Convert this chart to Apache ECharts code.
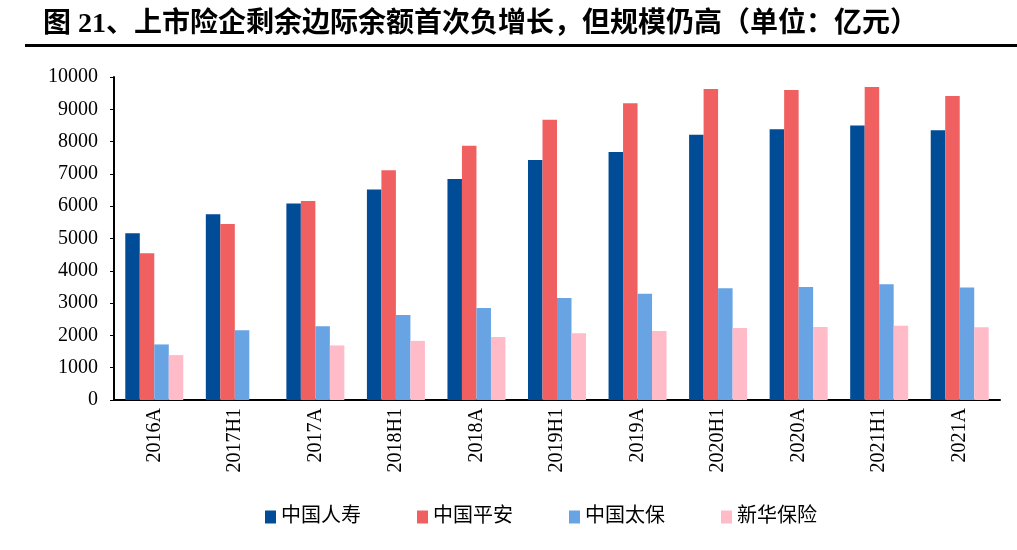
<!DOCTYPE html>
<html>
<head>
<meta charset="utf-8">
<script src="https://cdn.jsdelivr.net/npm/echarts@6/dist/echarts.min.js"></script>
<style>html,body{margin:0;padding:0;background:#fff;}#c{width:1017px;height:550px;}</style>
</head>
<body>
<div id="c"></div>
<script>
const categories = ['2016A','2017H1','2017A','2018H1','2018A','2019H1','2019A','2020H1','2020A','2021H1','2021A'];
const chinaLife = [5160, 5750, 6080, 6520, 6840, 7430, 7680, 8210, 8380, 8500, 8350];
const pingAn = [4540, 5450, 6160, 7110, 7870, 8680, 9190, 9630, 9600, 9690, 9410];
const cpic = [1720, 2160, 2280, 2630, 2850, 3160, 3290, 3460, 3500, 3580, 3480];
const newChina = [1390, null, 1690, 1830, 1950, 2070, 2140, 2230, 2260, 2300, 2250];
const seriesNames = ['中国人寿','中国平安','中国太保','新华保险'];
const yTicks = {min: 0, max: 10000, interval: 1000};

const colors = ['#004C97', '#F06060', '#68A3E3', '#FFBBC8'];
const serif = "'Liberation Serif', 'Noto Sans CJK SC', serif";
const chart = echarts.init(document.getElementById('c'));
const values = [chinaLife, pingAn, cpic, newChina];
chart.setOption({
  animation: false,
  backgroundColor: '#fff',
  title: {
    text: '图 21、上市险企剩余边际余额首次负增长，但规模仍高（单位：亿元）',
    left: 38, top: 6,
    textStyle: {fontFamily: serif, fontSize: 28, fontWeight: 'bold', color: '#000'}
  },
  graphic: [{
    type: 'rect', shape: {x: 25, y: 44, width: 992, height: 3},
    style: {fill: '#000'}
  }],
  legend: {
    data: seriesNames,
    left: 260, top: 502,
    itemWidth: 11, itemHeight: 13, itemGap: 56,
    icon: 'rect',
    textStyle: {fontFamily: serif, fontSize: 20, color: '#000'}
  },
  grid: {left: 114, right: 17, top: 77, bottom: 150, containLabel: false},
  xAxis: {
    type: 'category',
    data: categories,
    axisLine: {lineStyle: {color: '#000', width: 2}},
    axisTick: {show: false},
    axisLabel: {rotate: 90, color: '#000', fontFamily: serif, fontSize: 20, margin: 8}
  },
  yAxis: {
    type: 'value',
    min: yTicks.min, max: yTicks.max, interval: yTicks.interval,
    axisLine: {show: true, lineStyle: {color: '#000', width: 2}},
    axisTick: {show: true, length: 4, lineStyle: {color: '#000'}},
    splitLine: {show: false},
    axisLabel: {color: '#000', fontFamily: serif, fontSize: 20, margin: 16, formatter: v => String(v)}
  },
  series: seriesNames.map((n, i) => ({
    name: n, type: 'bar', data: values[i],
    barGap: '0%', barCategoryGap: '28%',
    itemStyle: {color: colors[i]}
  }))
});
</script>
</body>
</html>
